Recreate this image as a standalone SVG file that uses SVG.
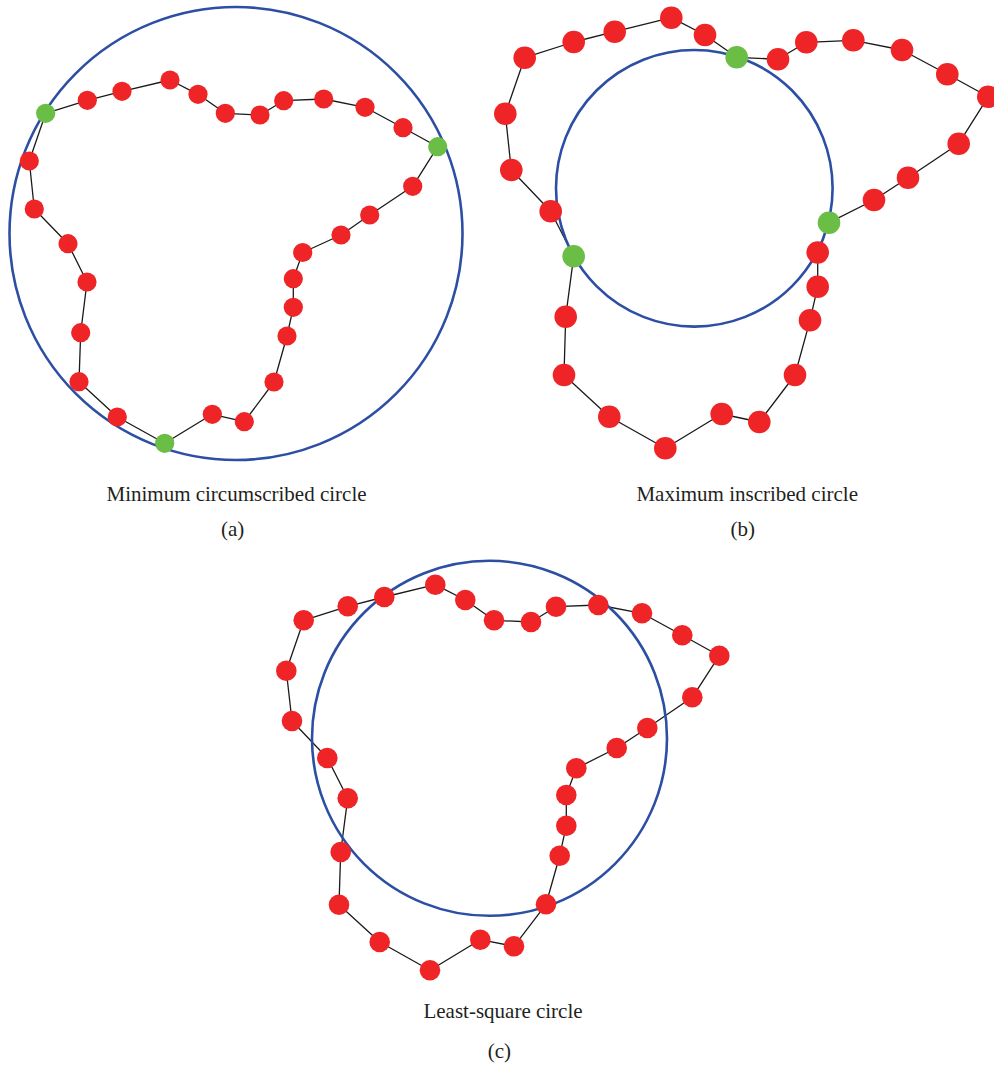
<svg xmlns="http://www.w3.org/2000/svg" width="994" height="1068" viewBox="0 0 994 1068">
<style>
.edge{fill:none;stroke:#1a1a1a;stroke-width:1.3;stroke-linejoin:round}
.ref{fill:none;stroke:#2c4ea3;stroke-width:2.6}
.red{fill:#ee2427}
.green{fill:#6abd45}
.cap{font-family:"Liberation Serif","Times New Roman",serif;font-size:21px;fill:#231f20;text-anchor:middle}
</style>
<rect width="994" height="1068" fill="#ffffff"/>
<g id="connectors">
<path class="edge" d="M45.7,113.3 L87.3,100.3 L122,91.3 L170,80 L198,94.3 L225.3,113.3 L260,115 L283.7,100.7 L323.7,99 L365,107.3 L403,127.7 L437.7,146.7 L412.7,186.3 L369.7,215 L341,235 L302.7,252.5 L293.3,278.7 L293.3,307.3 L287,336 L274,382 L244.3,421.7 L212.3,414.3 L164.7,443.3 L117.3,417 L79,381.7 L80.7,332.7 L87,282 L68,243.7 L34.3,209 L29.3,161 Z"/>
<path class="edge" d="M524.7,57.7 L573.7,42 L614.7,31.7 L671.3,17.7 L705,35 L736.7,57.3 L778,59.3 L806.3,42.3 L853.3,40.3 L902,50 L947.3,74.3 L988.3,96.7 L958.7,143.7 L908,177.7 L874,200 L829,222.7 L817.7,252.5 L817.7,286.7 L810,320.3 L795,375 L759.3,422 L721.7,414 L665.3,448.3 L609.3,416.7 L564,375 L565.7,316.7 L573.7,256.3 L550.7,211.3 L511.3,170 L505.3,113.7 Z"/>
<path class="edge" d="M303.7,620.3 L347.7,606.3 L384.3,597 L435.3,584.7 L465.3,600 L494,620.3 L531,622 L556,606.7 L598.3,605 L642,613.3 L682.3,635.3 L719.3,655.7 L692.3,697.3 L647.3,728 L616.7,748 L576.3,768.3 L566.3,795 L566.3,825.7 L559.7,855.7 L546,904.3 L514,946.3 L480.3,939.7 L430,970.3 L379.7,942 L339,904.7 L340.7,852 L347.7,798.3 L327.3,758 L292,721 L286.3,670.7 Z"/>
</g>
<g id="circle-a"><circle class="ref" cx="236" cy="233.5" r="226.5"/></g>
<g id="circle-b"><circle class="ref" cx="694.3" cy="188.3" r="138.3"/></g>
<g id="circle-c"><circle class="ref" cx="489.5" cy="738.3" r="177.5"/></g>
<g id="points-a">
<g id="a1"><circle class="green" cx="45.7" cy="113.3" r="9.6"/></g>
<g id="a2"><circle class="red" cx="87.3" cy="100.3" r="9.6"/></g>
<g id="a3"><circle class="red" cx="122" cy="91.3" r="9.6"/></g>
<g id="a4"><circle class="red" cx="170" cy="80" r="9.6"/></g>
<g id="a5"><circle class="red" cx="198" cy="94.3" r="9.6"/></g>
<g id="a6"><circle class="red" cx="225.3" cy="113.3" r="9.6"/></g>
<g id="a7"><circle class="red" cx="260" cy="115" r="9.6"/></g>
<g id="a8"><circle class="red" cx="283.7" cy="100.7" r="9.6"/></g>
<g id="a9"><circle class="red" cx="323.7" cy="99" r="9.6"/></g>
<g id="a10"><circle class="red" cx="365" cy="107.3" r="9.6"/></g>
<g id="a11"><circle class="red" cx="403" cy="127.7" r="9.6"/></g>
<g id="a12"><circle class="green" cx="437.7" cy="146.7" r="9.6"/></g>
<g id="a13"><circle class="red" cx="412.7" cy="186.3" r="9.6"/></g>
<g id="a14"><circle class="red" cx="369.7" cy="215" r="9.6"/></g>
<g id="a15"><circle class="red" cx="341" cy="235" r="9.6"/></g>
<g id="a16"><circle class="red" cx="302.7" cy="252.5" r="9.6"/></g>
<g id="a17"><circle class="red" cx="293.3" cy="278.7" r="9.6"/></g>
<g id="a18"><circle class="red" cx="293.3" cy="307.3" r="9.6"/></g>
<g id="a19"><circle class="red" cx="287" cy="336" r="9.6"/></g>
<g id="a20"><circle class="red" cx="274" cy="382" r="9.6"/></g>
<g id="a21"><circle class="red" cx="244.3" cy="421.7" r="9.6"/></g>
<g id="a22"><circle class="red" cx="212.3" cy="414.3" r="9.6"/></g>
<g id="a23"><circle class="green" cx="164.7" cy="443.3" r="9.6"/></g>
<g id="a24"><circle class="red" cx="117.3" cy="417" r="9.6"/></g>
<g id="a25"><circle class="red" cx="79" cy="381.7" r="9.6"/></g>
<g id="a26"><circle class="red" cx="80.7" cy="332.7" r="9.6"/></g>
<g id="a27"><circle class="red" cx="87" cy="282" r="9.6"/></g>
<g id="a28"><circle class="red" cx="68" cy="243.7" r="9.6"/></g>
<g id="a29"><circle class="red" cx="34.3" cy="209" r="9.6"/></g>
<g id="a30"><circle class="red" cx="29.3" cy="161" r="9.6"/></g>
</g>
<g id="points-b">
<g id="b1"><circle class="red" cx="524.7" cy="57.7" r="11.3"/></g>
<g id="b2"><circle class="red" cx="573.7" cy="42" r="11.3"/></g>
<g id="b3"><circle class="red" cx="614.7" cy="31.7" r="11.3"/></g>
<g id="b4"><circle class="red" cx="671.3" cy="17.7" r="11.3"/></g>
<g id="b5"><circle class="red" cx="705" cy="35" r="11.3"/></g>
<g id="b6"><circle class="green" cx="736.7" cy="57.3" r="11.3"/></g>
<g id="b7"><circle class="red" cx="778" cy="59.3" r="11.3"/></g>
<g id="b8"><circle class="red" cx="806.3" cy="42.3" r="11.3"/></g>
<g id="b9"><circle class="red" cx="853.3" cy="40.3" r="11.3"/></g>
<g id="b10"><circle class="red" cx="902" cy="50" r="11.3"/></g>
<g id="b11"><circle class="red" cx="947.3" cy="74.3" r="11.3"/></g>
<g id="b12"><circle class="red" cx="988.3" cy="96.7" r="11.3"/></g>
<g id="b13"><circle class="red" cx="958.7" cy="143.7" r="11.3"/></g>
<g id="b14"><circle class="red" cx="908" cy="177.7" r="11.3"/></g>
<g id="b15"><circle class="red" cx="874" cy="200" r="11.3"/></g>
<g id="b16"><circle class="green" cx="829" cy="222.7" r="11.3"/></g>
<g id="b17"><circle class="red" cx="817.7" cy="252.5" r="11.3"/></g>
<g id="b18"><circle class="red" cx="817.7" cy="286.7" r="11.3"/></g>
<g id="b19"><circle class="red" cx="810" cy="320.3" r="11.3"/></g>
<g id="b20"><circle class="red" cx="795" cy="375" r="11.3"/></g>
<g id="b21"><circle class="red" cx="759.3" cy="422" r="11.3"/></g>
<g id="b22"><circle class="red" cx="721.7" cy="414" r="11.3"/></g>
<g id="b23"><circle class="red" cx="665.3" cy="448.3" r="11.3"/></g>
<g id="b24"><circle class="red" cx="609.3" cy="416.7" r="11.3"/></g>
<g id="b25"><circle class="red" cx="564" cy="375" r="11.3"/></g>
<g id="b26"><circle class="red" cx="565.7" cy="316.7" r="11.3"/></g>
<g id="b27"><circle class="green" cx="573.7" cy="256.3" r="11.3"/></g>
<g id="b28"><circle class="red" cx="550.7" cy="211.3" r="11.3"/></g>
<g id="b29"><circle class="red" cx="511.3" cy="170" r="11.3"/></g>
<g id="b30"><circle class="red" cx="505.3" cy="113.7" r="11.3"/></g>
</g>
<g id="points-c">
<g id="c1"><circle class="red" cx="303.7" cy="620.3" r="10.3"/></g>
<g id="c2"><circle class="red" cx="347.7" cy="606.3" r="10.3"/></g>
<g id="c3"><circle class="red" cx="384.3" cy="597" r="10.3"/></g>
<g id="c4"><circle class="red" cx="435.3" cy="584.7" r="10.3"/></g>
<g id="c5"><circle class="red" cx="465.3" cy="600" r="10.3"/></g>
<g id="c6"><circle class="red" cx="494" cy="620.3" r="10.3"/></g>
<g id="c7"><circle class="red" cx="531" cy="622" r="10.3"/></g>
<g id="c8"><circle class="red" cx="556" cy="606.7" r="10.3"/></g>
<g id="c9"><circle class="red" cx="598.3" cy="605" r="10.3"/></g>
<g id="c10"><circle class="red" cx="642" cy="613.3" r="10.3"/></g>
<g id="c11"><circle class="red" cx="682.3" cy="635.3" r="10.3"/></g>
<g id="c12"><circle class="red" cx="719.3" cy="655.7" r="10.3"/></g>
<g id="c13"><circle class="red" cx="692.3" cy="697.3" r="10.3"/></g>
<g id="c14"><circle class="red" cx="647.3" cy="728" r="10.3"/></g>
<g id="c15"><circle class="red" cx="616.7" cy="748" r="10.3"/></g>
<g id="c16"><circle class="red" cx="576.3" cy="768.3" r="10.3"/></g>
<g id="c17"><circle class="red" cx="566.3" cy="795" r="10.3"/></g>
<g id="c18"><circle class="red" cx="566.3" cy="825.7" r="10.3"/></g>
<g id="c19"><circle class="red" cx="559.7" cy="855.7" r="10.3"/></g>
<g id="c20"><circle class="red" cx="546" cy="904.3" r="10.3"/></g>
<g id="c21"><circle class="red" cx="514" cy="946.3" r="10.3"/></g>
<g id="c22"><circle class="red" cx="480.3" cy="939.7" r="10.3"/></g>
<g id="c23"><circle class="red" cx="430" cy="970.3" r="10.3"/></g>
<g id="c24"><circle class="red" cx="379.7" cy="942" r="10.3"/></g>
<g id="c25"><circle class="red" cx="339" cy="904.7" r="10.3"/></g>
<g id="c26"><circle class="red" cx="340.7" cy="852" r="10.3"/></g>
<g id="c27"><circle class="red" cx="347.7" cy="798.3" r="10.3"/></g>
<g id="c28"><circle class="red" cx="327.3" cy="758" r="10.3"/></g>
<g id="c29"><circle class="red" cx="292" cy="721" r="10.3"/></g>
<g id="c30"><circle class="red" cx="286.3" cy="670.7" r="10.3"/></g>
</g>
<g id="captions">
<text class="cap" x="236.5" y="500.5">Minimum circumscribed circle</text>
<text class="cap" x="232.7" y="535.5">(a)</text>
<text class="cap" x="747.2" y="500.5">Maximum inscribed circle</text>
<text class="cap" x="742.7" y="535.5">(b)</text>
<text class="cap" x="503" y="1018.3">Least-square circle</text>
<text class="cap" x="499.3" y="1058">(c)</text>
</g>
</svg>
